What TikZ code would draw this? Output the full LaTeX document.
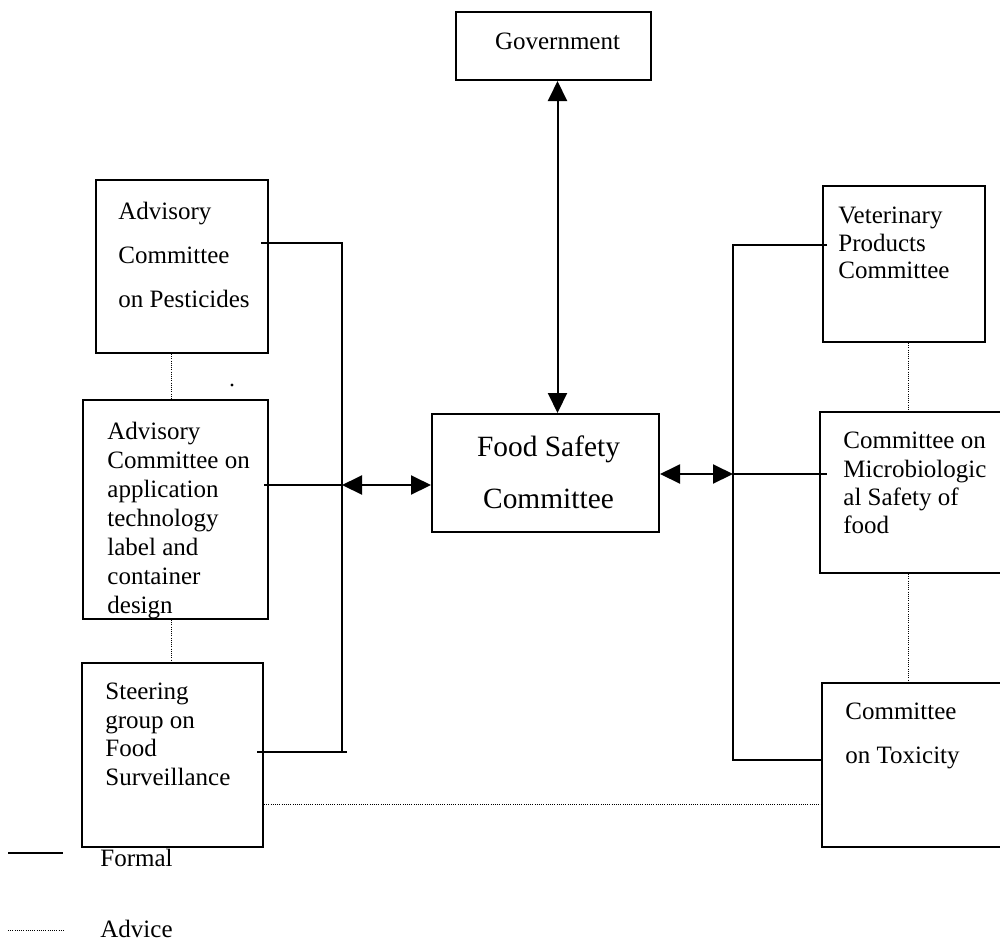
\documentclass[tikz,border=0pt]{standalone}
\usepackage{fontspec}
\setmainfont{Liberation Serif}
\usetikzlibrary{arrows.meta,calc}
\begin{document}
\begin{tikzpicture}[x=0.5pt,y=-0.5pt,
  box/.style={draw,line width=1pt,inner sep=0pt},
  txt/.style={inner sep=0pt,anchor=north west,align=left},
  formal/.style={line width=1pt},
  advice/.style={line width=0.5pt,dash pattern=on 0.5pt off 0.6pt},
  dbl/.style={line width=1pt,{Triangle[length=10pt,width=9.5pt]}-{Triangle[length=10pt,width=9.5pt]}}]
\useasboundingbox (0,0) rectangle (1000,943);

% boxes
\node[box,minimum width=97.5pt,minimum height=34pt] (gov) at (553.5,46) {};
\node[box,minimum width=113.5pt,minimum height=59pt] (fsc) at (545.5,473) {};
\node[box,minimum width=86pt,minimum height=86.5pt] (a1) at (182,266.5) {};
\node[box,minimum width=92.5pt,minimum height=109.5pt] (a2) at (175.5,509.5) {};
\node[box,minimum width=90.5pt,minimum height=92pt] (a3) at (172.5,755) {};
\node[box,minimum width=81pt,minimum height=78pt] (v) at (904,264) {};
\node[box,minimum width=92pt,minimum height=80.5pt] (m) at (912,492.5) {};
\node[box,minimum width=91pt,minimum height=82pt] (t) at (913,765) {};

% texts
\node[inner sep=0pt,anchor=north,font=\fontsize{12.5}{15}\selectfont] (govt) at (557.5,33) {Government};
\node[inner sep=0pt,anchor=north,align=center,font=\fontsize{14.7}{26}\selectfont] (fsct) at (548.5,435) {Food Safety\\Committee};
\node[txt,font=\fontsize{12.5}{22}\selectfont] (a1t) at (118,202) {Advisory\\Committee\\on Pesticides};
\node[txt,font=\fontsize{12.5}{14.45}\selectfont] (a2t) at (107,422) {Advisory\\Committee on\\application\\technology\\label and\\container\\design};
\node[txt,font=\fontsize{12.5}{14.2}\selectfont] (a3t) at (105,683) {Steering\\group on\\Food\\Surveillance};
\node[txt,font=\fontsize{12.5}{13.75}\selectfont] (vt) at (838,207) {Veterinary\\Products\\Committee};
\node[txt,font=\fontsize{12.5}{14.15}\selectfont] (mt) at (843,432) {Committee on\\Microbiologic\\al Safety of\\food};
\node[txt,font=\fontsize{12.5}{21.7}\selectfont] (tt) at (845,703) {Committee\\on Toxicity};

% bus coordinates
\coordinate (lt) at (342,243);
\coordinate (lm) at (342,485);
\coordinate (lb) at (342,752);
\coordinate (rt) at (733,245);
\coordinate (rm) at (733,474);
\coordinate (rb) at (733,760);
\coordinate (ladv) at (171,0);
\coordinate (radv) at (908,0);
\coordinate (hadv) at (0,804);

% formal connectors
\draw[formal] ($(a1.east |- lt)+(-8,0)$) -- (lt) -- (lb) -- ($(a3.east |- lb)+(-7,0)$);
\draw[formal] (lb) -- ++(5,0);
\draw[formal] ($(a2.east |- lm)+(-5,0)$) -- (lm);
\draw[dbl] (lm) -- (lm -| fsc.west);
\draw[formal] ($(v.west |- rt)+(5,0)$) -- (rt) -- (rb) -- (t.west |- rb);
\draw[formal] (rm) -- ($(m.west |- rm)+(8,0)$);
\draw[dbl] (fsc.east |- rm) -- (rm);
\draw[dbl] (gov.south -| govt.south) -- (fsc.north -| govt.south);

% advice connectors
\draw[advice] (a1.south -| ladv) -- (a2.north -| ladv);
\draw[advice] (a2.south -| ladv) -- (a3.north -| ladv);
\draw[advice] (v.south -| radv) -- (m.north -| radv);
\draw[advice] (m.south -| radv) -- (t.north -| radv);
\draw[advice] (a3.east |- hadv) -- (t.west |- hadv);

% stray dot
\fill (232,385) circle (0.8pt);

% legend
\coordinate (lf1) at (8,853);
\coordinate (lf2) at (63,853);
\coordinate (la1) at (8,930);
\coordinate (la2) at (65,930);
\draw[formal] (lf1) -- (lf2);
\draw[advice] (la1) -- (la2);
\node[txt,font=\fontsize{12.5}{15}\selectfont] (formalt) at (100,849) {Formal};
\node[txt,font=\fontsize{12.5}{15}\selectfont] (advicet) at (100,920) {Advice};
\end{tikzpicture}
\end{document}
